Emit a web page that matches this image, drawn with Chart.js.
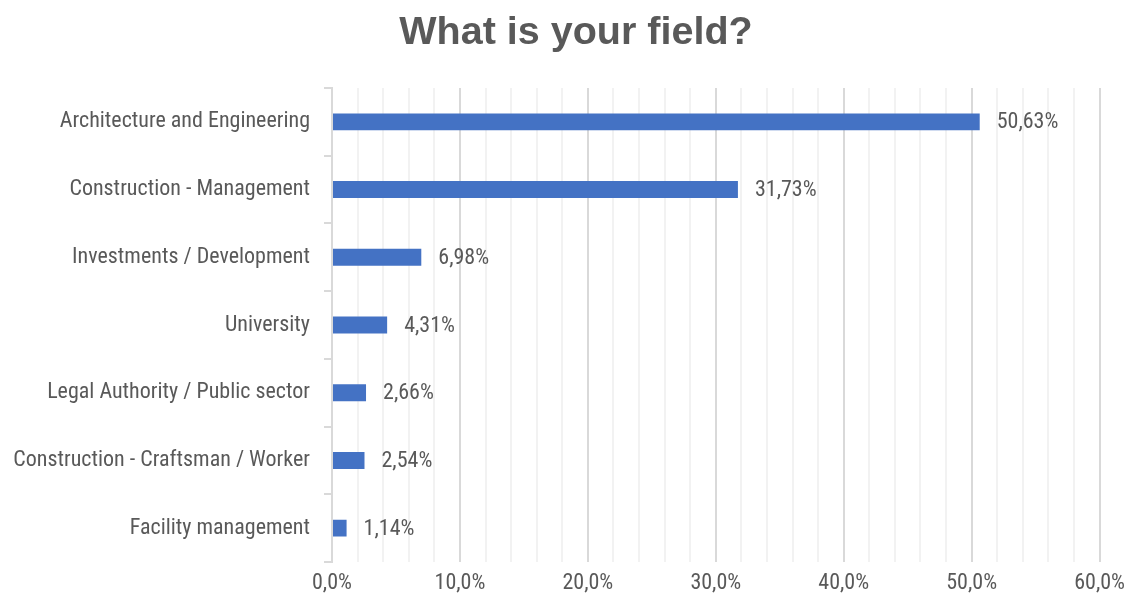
<!DOCTYPE html>
<html>
<head>
<meta charset="utf-8">
<script src="https://cdn.jsdelivr.net/npm/chart.js"></script>
<style>
  html, body { margin: 0; padding: 0; background: #fff; }
  #wrap { width: 1133px; height: 602px; }
</style>
</head>
<body>
<div id="wrap"><canvas id="fieldChart"></canvas></div>
<script>
// survey answers
const categories = [
  'Architecture and Engineering',
  'Construction - Management',
  'Investments / Development',
  'University',
  'Legal Authority / Public sector',
  'Construction - Craftsman / Worker',
  'Facility management'
];
const shares = [50.63, 31.73, 6.98, 4.31, 2.66, 2.54, 1.14];
const xTicks = [0, 10, 20, 30, 40, 50, 60];
const chartTitle = 'What is your field?';

const labelFont = { family: "'Liberation Sans Narrow', 'Roboto Condensed', 'Liberation Sans', sans-serif", size: 22 };
const textColor = '#595959';

const fmt = (v, d) => v.toFixed(d).replace('.', ',') + '%';

// value labels at the end of each bar + title (the original title sits a bit right of centre)
const extras = {
  id: 'extras',
  afterDatasetsDraw(chart) {
    const ctx = chart.ctx;
    const meta = chart.getDatasetMeta(0);
    ctx.save();
    ctx.font = labelFont.size + 'px ' + labelFont.family;
    ctx.fillStyle = textColor;
    ctx.textAlign = 'left';
    ctx.textBaseline = 'middle';
    meta.data.forEach((bar, i) => {
      ctx.fillText(fmt(shares[i], 2), bar.x + 17, bar.y + 1);
    });

    ctx.font = "bold 39.5px 'Liberation Sans', Arial, sans-serif";
    ctx.textAlign = 'center';
    ctx.fillText(chartTitle, 576, 33);
    ctx.restore();
  }
};

document.addEventListener('DOMContentLoaded', function() {
  const ctx = document.getElementById('fieldChart').getContext('2d');
  new Chart(ctx, {
    type: 'bar',
    data: {
      labels: categories,
      datasets: [{
        data: shares,
        backgroundColor: '#4472C4',
        categoryPercentage: 0.25,
        barPercentage: 1
      }]
    },
    plugins: [extras],
    options: {
      indexAxis: 'y',
      responsive: true,
      maintainAspectRatio: false,
      animation: false,
      layout: { padding: { top: 88, right: 27, bottom: 0, left: 0 } },
      scales: {
        x: {
          min: 0,
          max: 60,
          ticks: {
            stepSize: 2,
            autoSkip: false,
            maxRotation: 0,
            color: textColor,
            font: labelFont,
            padding: 8,
            callback: v => xTicks.includes(v) ? fmt(v, 1) : ''
          },
          grid: {
            drawTicks: false,
            lineWidth: 2,
            color: c => (c.tick && c.tick.value % 10 === 0) ? '#d9d9d9' : '#f2f2f2'
          },
          border: { display: false },
          afterFit(scale) { scale.height = 40; }
        },
        y: {
          ticks: {
            color: textColor,
            font: labelFont,
            padding: 14
          },
          grid: {
            offset: true,
            drawOnChartArea: false,
            tickLength: 8,
            color: '#d9d9d9',
            lineWidth: 2
          },
          border: { display: true, color: '#d9d9d9', width: 2 },
          afterFit(scale) { scale.width = 332; }
        }
      },
      plugins: {
        legend: { display: false },
        tooltip: { enabled: false },
        title: { display: false }
      }
    }
  });
});
</script>
</body>
</html>
